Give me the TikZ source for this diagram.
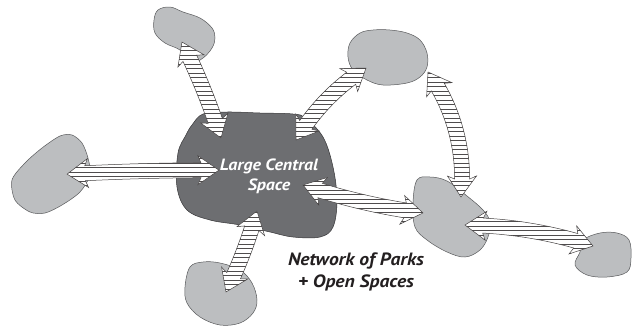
\documentclass[tikz,border=0pt]{standalone}
\usepackage{fontspec}
\setmainfont{PT Sans}[FakeStretch=1.1]
\usetikzlibrary{calc}

\definecolor{parkgray}{HTML}{BCBEC0}
\definecolor{hubgray}{HTML}{6D6E71}
\definecolor{edgegray}{HTML}{58595B}
\definecolor{inkgray}{HTML}{231F20}

\tikzset{
  park/.style={fill=parkgray, draw=edgegray, line width=0.5pt},
  hub/.style={fill=hubgray, draw=edgegray!60!black, line width=0.5pt},
  linkline/.style={draw=inkgray!85, line width=0.5pt, line join=miter},
  stripe/.style={draw=inkgray!80, line width=0.45pt},
  bigtext/.style={font=\bfseries\itshape, align=center},
}

% arrow sizes (pt)
\def\lkw{7.5}
\def\lkhw{14.5}
\def\lkhead{18}
\def\lkswp{3}

% striped double arrow along a circular arc: tip A, tip B, bulge
\newcommand{\parklink}[3]{%
  \path let \p1=(#1), \p2=(#2) in
    \pgfextra{\xdef\lkax{\x1}\xdef\lkay{\y1}\xdef\lkbx{\x2}\xdef\lkby{\y2}};
  \pgfmathsetmacro\lkmx{(\lkax+\lkbx)/2}
  \pgfmathsetmacro\lkmy{(\lkay+\lkby)/2}
  \pgfmathsetmacro\lkang{atan2(\lkby-\lkay,\lkbx-\lkax)}
  \pgfmathsetmacro\lkL{veclen(\lkbx-\lkax,\lkby-\lkay)/2}
  \pgfmathsetmacro\lks{abs(#3)}
  \pgfmathsetmacro\lksg{(#3<0) ? -1 : 1}
  \pgfmathsetmacro\lkR{(\lkL*\lkL+\lks*\lks)/(2*\lks)}
  \pgfmathsetmacro\lkcy{\lks-\lkR}
  \pgfmathsetmacro\lkth{asin(\lkL/\lkR)}
  \pgfmathsetmacro\lkaa{90+\lkth}
  \pgfmathsetmacro\lkab{90-\lkth}
  \pgfmathsetmacro\lkd{\lkhead/\lkR*180/pi}
  \pgfmathsetmacro\lke{\lkswp/\lkR*180/pi}
  \pgfmathsetmacro\lkba{\lkaa-\lkd}
  \pgfmathsetmacro\lkbb{\lkab+\lkd}
  \pgfmathsetmacro\lkca{\lkba-\lke}
  \pgfmathsetmacro\lkcb{\lkbb+\lke}
  \pgfmathsetmacro\lkro{\lkR+\lkw}
  \pgfmathsetmacro\lkri{\lkR-\lkw}
  \pgfmathsetmacro\lkho{\lkR+\lkhw}
  \pgfmathsetmacro\lkhi{\lkR-\lkhw}
  \def\lkoutline{(\lkba:\lkro pt) arc[start angle=\lkba, end angle=\lkbb, radius=\lkro pt]
    -- (\lkcb:\lkho pt) -- (\lkab:\lkR pt) -- (\lkcb:\lkhi pt) -- (\lkbb:\lkri pt)
    arc[start angle=\lkbb, end angle=\lkba, radius=\lkri pt]
    -- (\lkca:\lkhi pt) -- (\lkaa:\lkR pt) -- (\lkca:\lkho pt) -- cycle}
  \begin{scope}[shift={(\lkmx pt,\lkmy pt)}, rotate=\lkang, yscale=\lksg, shift={(0pt,\lkcy pt)}]
    \fill[white] \lkoutline;
    \begin{scope}
      \clip \lkoutline;
      \begin{scope}[reset cm]
        \foreach \yy in {1,5.5,...,330} \draw[stripe] (0pt,-\yy pt) -- (632pt,-\yy pt);
      \end{scope}
    \end{scope}
    \draw[linkline] \lkoutline;
  \end{scope}
}

\begin{document}
\begin{tikzpicture}[x=1pt, y=-1pt]
  \useasboundingbox (0,0) rectangle (632,327);

  % parks
  \draw[park] plot[smooth cycle, tension=0.6] coordinates {(158,10) (170,7) (183,12) (200,18) (212,28) (215,38) (212,48) (203,58) (192,62) (180,50) (165,43) (155,33) (154,20)};
  \draw[park] plot[smooth cycle, tension=0.6] coordinates {(350,43) (360,33) (373,30) (390,30) (407,33) (420,40) (427,53) (427,67) (420,77) (407,83) (383,85) (367,80) (353,70) (348,57)};
  \draw[park] plot[smooth cycle, tension=0.5] coordinates {(12,180) (25,163) (42,148) (60,136) (72,135) (82,143) (88,158) (90,175) (80,192) (62,205) (45,213) (30,212) (15,200)};
  \draw[park] plot[smooth cycle, tension=0.6] coordinates {(417,180) (430,177) (447,181) (467,196) (483,210) (490,222) (488,237) (480,250) (465,257) (447,252) (427,240) (415,227) (413,203)};
  \draw[park] plot[smooth cycle, tension=0.6] coordinates {(583,240) (600,233) (617,233) (629,240) (631,258) (627,272) (607,277) (587,275) (575,265) (580,252)};
  \draw[park] plot[smooth cycle, tension=0.6] coordinates {(190,267) (203,262) (220,263) (240,270) (252,283) (257,300) (253,313) (240,323) (220,325) (200,317) (187,303) (185,287)};

  % central space
  \draw[hub] plot[smooth cycle, tension=0.6] coordinates {(192,125) (203,114) (227,112) (260,113) (293,114) (305,118) (323,137) (333,167) (337,200) (333,227) (320,237) (293,237) (270,232) (240,225) (210,220) (187,210) (177,187) (178,153) (186,135)};

  % arrow tips
  \coordinate (nw-tip) at (182,42);
  \coordinate (hub-nw) at (221,138);
  \coordinate (ne-tip1) at (366,68);
  \coordinate (hub-ne) at (296,140);
  \coordinate (ne-tip2) at (428,72);
  \coordinate (e-top) at (461,197);
  \coordinate (w-tip) at (67,174);
  \coordinate (hub-w) at (219,170);
  \coordinate (hub-e) at (303,185);
  \coordinate (e-left) at (423,213);
  \coordinate (e-right) at (465,225);
  \coordinate (fe-tip) at (593,246);
  \coordinate (hub-s) at (257,211);
  \coordinate (s-tip) at (226,292);

  % links
  \parklink{nw-tip}{hub-nw}{2}
  \parklink{ne-tip1}{hub-ne}{-6}
  \parklink{ne-tip2}{e-top}{12}
  \parklink{w-tip}{hub-w}{1}
  \parklink{hub-e}{e-left}{-3}
  \parklink{e-right}{fe-tip}{5}
  \parklink{hub-s}{s-tip}{2}

  % labels
  \node[bigtext, text=white, font=\bfseries\itshape\fontsize{16.3}{20}\selectfont] (hublabel) at (269,176) {Large Central\\Space};
  \node[bigtext, text=inkgray, font=\bfseries\itshape\fontsize{17.8}{22}\selectfont] (netlabel) at (356,272) {Network of Parks\\+ Open Spaces};
\end{tikzpicture}
\end{document}
